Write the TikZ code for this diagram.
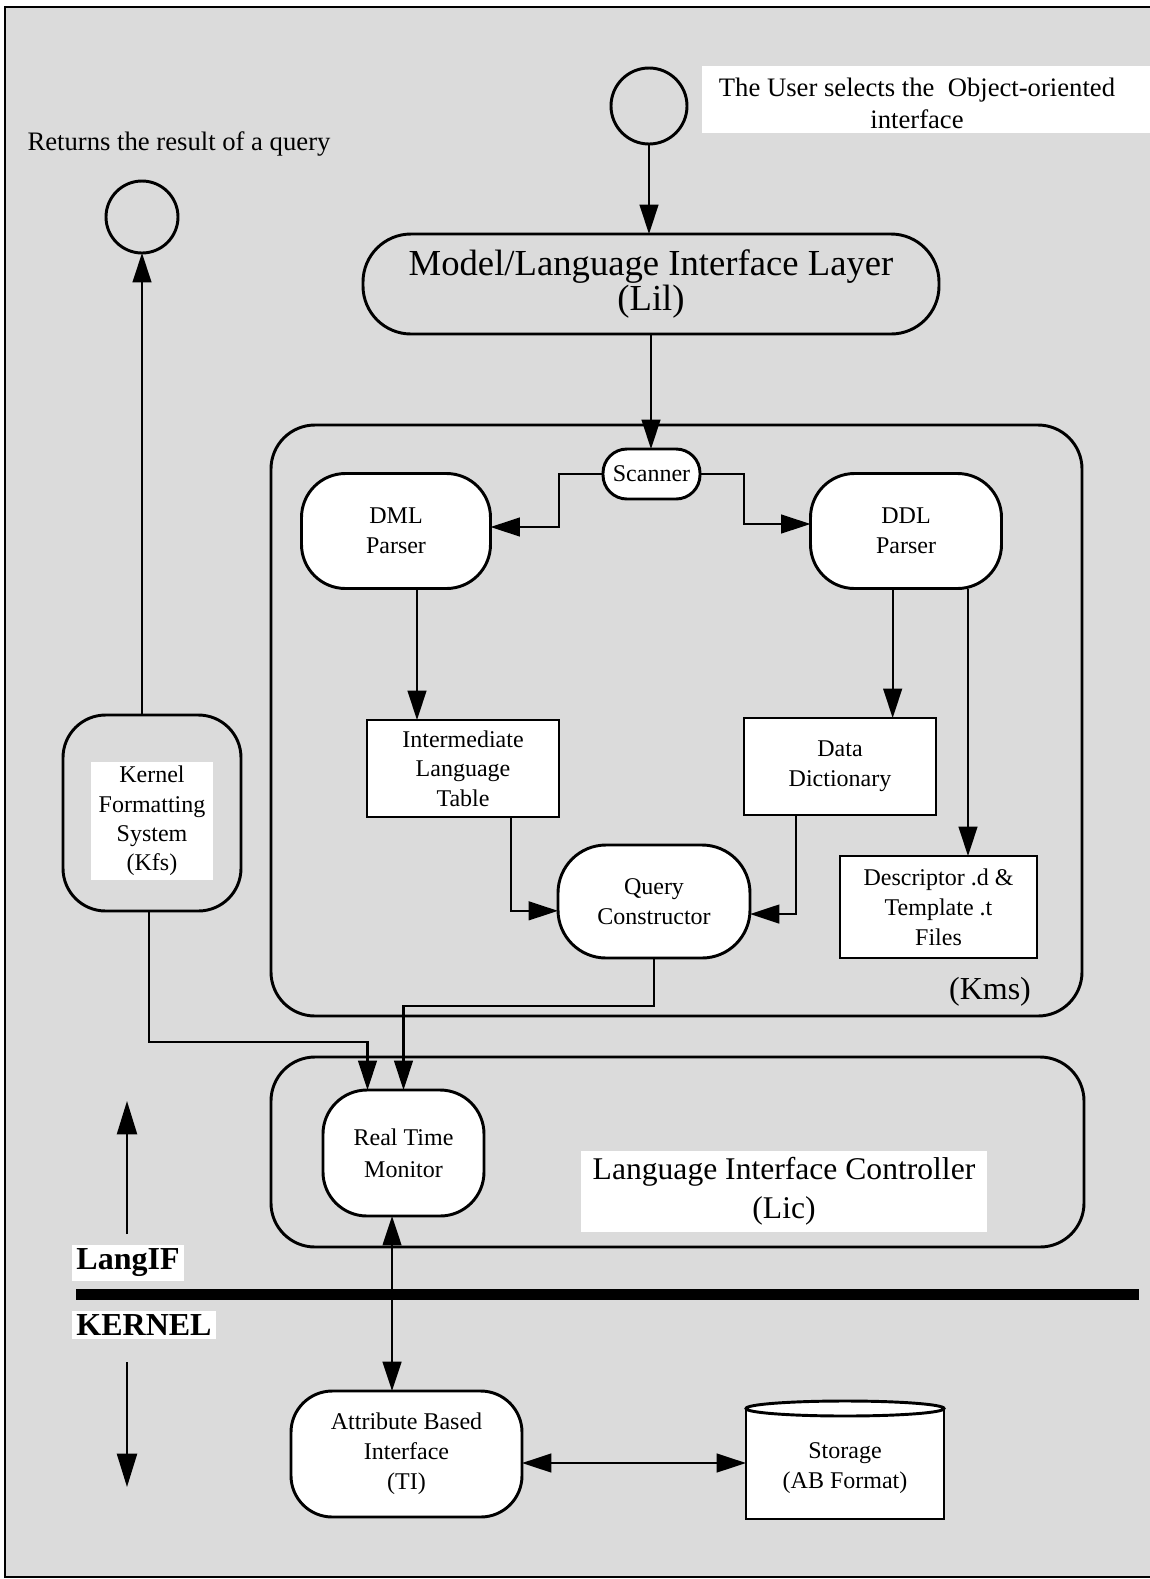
\documentclass[tikz,border=0pt]{standalone}
\usepackage{fontspec}
\setmainfont{Liberation Serif}
\usetikzlibrary{arrows.meta}

\begin{document}
\begin{tikzpicture}[x=0.75pt,y=-0.75pt,
  every node/.style={inner sep=0pt, outer sep=0pt},
  fs/.style={font=\fontsize{18}{22.5}\selectfont},
  roundbox/.style={draw, fill=white, line width=2.2pt, align=center, fs},
  squarebox/.style={draw, fill=white, line width=2.2pt, align=center, fs},
  frame/.style={draw, line width=2.2pt},
  ring/.style={draw, circle, line width=2.2pt},
  arr/.style={line width=1.7pt, -{Triangle[length=22pt,width=14pt]}},
  bigarr/.style={line width=1.7pt, -{Triangle[length=25pt,width=15pt]}},
  dblarr/.style={line width=1.7pt, {Triangle[length=22pt,width=14pt]}-{Triangle[length=22pt,width=14pt]}},
  whitelabel/.style={fill=white, align=center},
]
\useasboundingbox (0,0) rectangle (1150,1579);
\clip (0,0) rectangle (1150,1579);

% stippled page background and frame
\fill[black!14] (5,7) rectangle (1160,1577);
\draw[line width=1.5pt] (1160,7) -- (5,7) -- (5,1577) -- (1160,1577);

% entry and exit points
\node[ring, minimum size=57pt] (user) at (649,106) {};
\fill[white] (702,66) rectangle (1150,133);
\node[align=center, font=\fontsize{20}{24}\selectfont] (usertext) at (917,103)
  {The User selects the\ \ Object-oriented\\interface};
\node[font=\fontsize{20}{24}\selectfont] (ret) at (179,144) {Returns the result of a query};
\node[ring, minimum size=54pt] (result) at (142,217) {};

% language interface layer
\node[frame, rounded corners=36pt, minimum width=432pt, minimum height=75pt,
  align=center, font=\fontsize{27.5}{26}\selectfont] (lil) at (651,284)
  {Model/Language Interface Layer\\(Lil)};

% kernel mapping system
\node[frame, rounded corners=33pt, minimum width=608.25pt, minimum height=443.25pt] (kms) at (676.5,720.5) {};
\node[font=\fontsize{24}{28}\selectfont] (kmslabel) at (990,992) {(Kms)};

\node[roundbox, rounded corners=18pt, minimum width=72.75pt, minimum height=37.5pt] (scanner) at (651.5,474) {Scanner};
\node[roundbox, rounded corners=33pt, minimum width=141.75pt, minimum height=86.25pt] (dml) at (396,531) {DML\\Parser};
\node[roundbox, rounded corners=33pt, minimum width=143.25pt, minimum height=86.25pt] (ddl) at (906,531) {DDL\\Parser};
\node[squarebox, minimum width=144pt, minimum height=72.75pt, font=\fontsize{18}{22}\selectfont] (ilt) at (463,768.5) {Intermediate\\Language\\Table};
\node[squarebox, minimum width=144pt, minimum height=72.75pt] (dd) at (840,766.5) {Data\\Dictionary};
\node[roundbox, rounded corners=36pt, minimum width=144pt, minimum height=84.75pt] (qc) at (654,901.5) {Query\\Constructor};
\node[squarebox, minimum width=147.75pt, minimum height=76.5pt] (desc) at (938.5,907) {Descriptor .d \&\\Template .t\\Files};

% kernel formatting system
\node[frame, rounded corners=32pt, minimum width=133.5pt, minimum height=147pt] (kfs) at (152,813) {};
\node[whitelabel, font=\fontsize{18}{22}\selectfont, inner xsep=6pt, inner ysep=3pt] (kfstext) at (152,821)
  {Kernel\\Formatting\\System\\(Kfs)};

% language interface controller
\node[frame, rounded corners=33pt, minimum width=609.75pt, minimum height=142.5pt] (lic) at (677.5,1152) {};
\node[whitelabel, font=\fontsize{23.7}{29}\selectfont, minimum width=304pt, inner ysep=5pt] (lictext) at (784,1191)
  {Language Interface Controller\\(Lic)};
\node[roundbox, rounded corners=33pt, minimum width=120.75pt, minimum height=94.5pt, font=\fontsize{18}{24}\selectfont] (rtm) at (403.5,1153) {Real Time\\Monitor};

% boundary between LangIF and KERNEL
\draw[line width=8.25pt] (76,1294) -- (1139,1294);
\node[fill=white, font=\bfseries\fontsize{24}{28}\selectfont, inner sep=3pt] (langif) at (128,1263) {LangIF};
\node[fill=white, font=\bfseries\fontsize{24}{28}\selectfont, inner sep=3pt] (kernel) at (144,1325) {KERNEL};
\coordinate (upA) at (127,1234);
\coordinate (upB) at (127,1101);
\coordinate (dnA) at (127,1362);
\coordinate (dnB) at (127,1487);
\draw[bigarr] (upA) -- (upB);
\draw[bigarr] (dnA) -- (dnB);

% kernel side
\node[roundbox, rounded corners=31pt, minimum width=173.25pt, minimum height=94.5pt] (abi) at (406.5,1454) {Attribute Based\\Interface\\(TI)};
\draw[line width=2.2pt, fill=white] (746,1408.5) -- (746,1519) -- (944,1519) -- (944,1408.5);
\draw[line width=2.2pt, fill=white] (845,1408.5) ellipse [x radius=99, y radius=7.5];
\node[fs, align=center, minimum width=148.5pt] (storage) at (845,1468) {Storage\\(AB Format)};

% connectors
\draw[arr] (user.south) -- (user.south |- lil.north);
\draw[arr] (lil.south) -- (lil.south |- scanner.north);
\draw[arr] (scanner.west) -- ++(-44,0) |- ([yshift=3pt]dml.east);
\draw[arr] (scanner.east) -- ++(44,0) |- ([yshift=5.25pt]ddl.west);
\coordinate (d1) at ([xshift=15.75pt]dml.south);
\draw[arr] (d1) -- (d1 |- ilt.north);
\coordinate (d2) at ([xshift=-10pt]ddl.south);
\draw[arr] (d2) -- (d2 |- dd.north);
\coordinate (d3) at ([xshift=46.5pt]ddl.south);
\draw[arr] (d3) -- (d3 |- desc.north);
\coordinate (d4) at ([xshift=36pt]ilt.south);
\draw[arr] (d4) |- ([yshift=-7pt]qc.west);
\coordinate (d5) at ([xshift=-33pt]dd.south);
\draw[arr] (d5) |- ([yshift=-9.4pt]qc.east);
\draw[arr] (qc.south) -- ++(0,48) -| (rtm.north);
\draw[arr] ([xshift=-2.25pt]kfs.south) -- ++(0,131) -| ([xshift=-27pt]rtm.north);
\draw[arr] ([xshift=-7.5pt]kfs.north) -- (result.south);
\coordinate (m1) at ([xshift=-8.6pt]rtm.south);
\draw[dblarr] (m1) -- (m1 |- abi.north);
\coordinate (s1) at ([yshift=-6.75pt]abi.east);
\draw[dblarr] (s1) -- (s1 -| storage.west);
\end{tikzpicture}
\end{document}
